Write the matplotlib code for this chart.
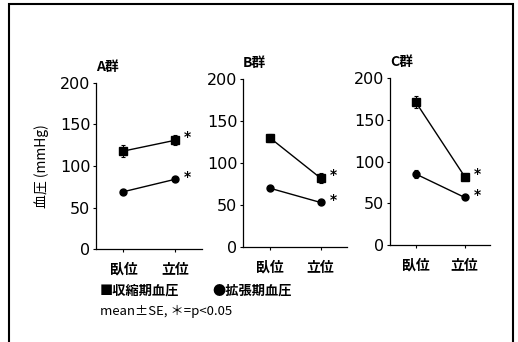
import matplotlib
matplotlib.use("Agg")
import matplotlib.pyplot as plt
from matplotlib.patches import Rectangle

plt.rcParams['font.family'] = ['Noto Sans CJK JP', 'DejaVu Sans']

groups = ["A群", "B群", "C群"]
positions = ["臥位", "立位"]
sys_mean = [[118, 131], [130, 82], [171, 82]]
sys_se = [[7, 6], [5, 6], [7, 3]]
dia_mean = [[69, 84], [70, 53], [85, 57]]
dia_se = [[2, 2], [2, 2], [5, 2]]
yticks = [0, 50, 100, 150, 200]

fig = plt.figure(figsize=(5.18, 3.42), dpi=100)
rects = [
    (96/518, 1-249/342, 106/518, 166/342),
    (243/518, 1-247/342, 104/518, 168/342),
    (390/518, 1-245/342, 100/518, 167/342),
]
x = [0, 1]
for i, r in enumerate(rects):
    ax = fig.add_axes(r)
    ax.errorbar(x, sys_mean[i], yerr=sys_se[i], fmt='s-', color='black',
                ms=5.5, lw=1.0, elinewidth=0.8, capsize=1.5, capthick=0.8)
    ax.errorbar(x, dia_mean[i], yerr=dia_se[i], fmt='o-', color='black',
                ms=5, lw=1.0, elinewidth=0.8, capsize=1.5, capthick=0.8)
    for vals in (sys_mean[i], dia_mean[i]):
        ax.annotate("*", (1, vals[1]), xytext=(6.5, 2), textcoords='offset points',
                    fontsize=10, fontweight='bold', family='DejaVu Sans',
                    ha='left', va='center')
    ax.set_xlim(-0.53, 1.52)
    ax.set_ylim(0, 200)
    ax.set_yticks(yticks)
    ax.set_yticklabels([str(v) for v in yticks], fontsize=11.5, family='DejaVu Sans')
    ax.set_xticks(x)
    ax.set_xticklabels(positions, fontsize=10, fontweight='bold')
    ax.tick_params(axis='both', length=2, width=0.8, pad=2)
    ax.tick_params(axis='x', pad=8)
    for s in ('top', 'right'):
        ax.spines[s].set_visible(False)
    for s in ('left', 'bottom'):
        ax.spines[s].set_linewidth(0.9)
    ax.set_title(groups[i], loc='left', fontsize=10, fontweight='bold', pad=9)
    if i == 0:
        ax.set_ylabel("血圧 (mmHg)", fontsize=10, labelpad=8)

fig.add_artist(Rectangle((9/518, -0.1), 504/518, (338/342)+0.1, transform=fig.transFigure,
                         fill=False, lw=1.5, edgecolor='black'))
fig.text(100/518, 1-291/342, "■収縮期血圧", fontsize=9.5, fontweight='bold', va='center')
fig.text(212/518, 1-291/342, "●拡張期血圧", fontsize=9.5, fontweight='bold', va='center')
fig.text(100/518, 1-311/342, "mean±SE, ＊=p<0.05", fontsize=9.5, va='center')

fig.savefig("out.png", dpi=100)
